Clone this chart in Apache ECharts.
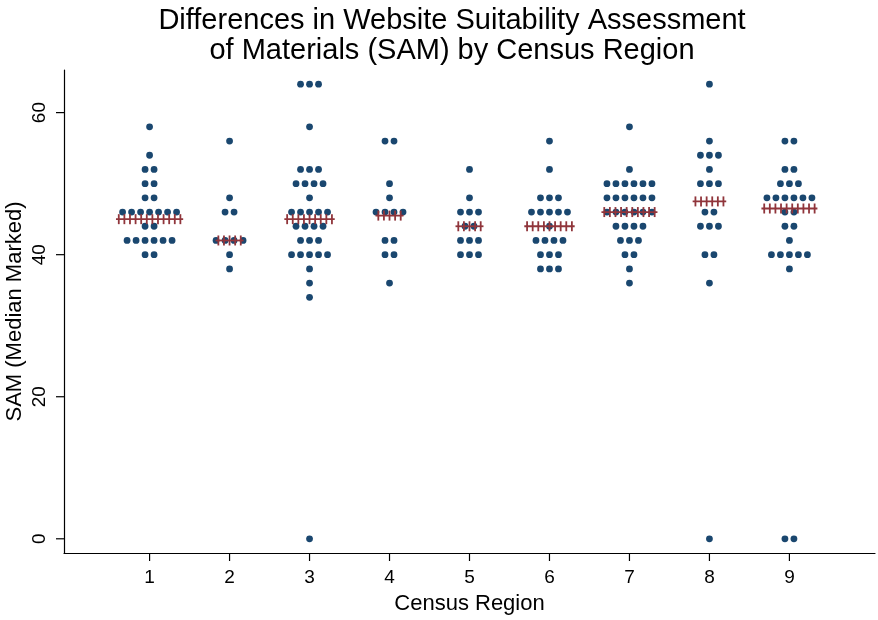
<!DOCTYPE html>
<html>
<head>
<meta charset="utf-8">
<script src="https://cdn.jsdelivr.net/npm/echarts@6/dist/echarts.min.js"></script>
<style>
  html, body { margin: 0; padding: 0; background: #fff; }
  #chart { width: 878px; height: 620px; }
</style>
</head>
<body>
<div id="chart"></div>
<script>
// SAM score per website, one array per census region
var region1 = [58, 54, 52, 52, 50, 50, 48, 48, 46, 46, 46, 46, 46, 46, 46, 44, 44, 42, 42, 42, 42, 42, 42, 40, 40];
var region2 = [56, 48, 46, 46, 42, 42, 42, 42, 40, 38];
var region3 = [64, 64, 64, 58, 52, 52, 52, 50, 50, 50, 50, 48, 46, 46, 46, 46, 46, 44, 44, 44, 44, 42, 42, 42, 40, 40, 40, 40, 40, 38, 36, 34, 0];
var region4 = [56, 56, 50, 48, 46, 46, 46, 46, 42, 42, 40, 40, 36];
var region5 = [52, 48, 46, 46, 46, 44, 44, 42, 42, 42, 40, 40, 40];
var region6 = [56, 52, 48, 48, 48, 46, 46, 46, 46, 46, 44, 42, 42, 42, 42, 40, 40, 40, 38, 38, 38];
var region7 = [58, 52, 50, 50, 50, 50, 50, 50, 48, 48, 48, 48, 48, 48, 46, 46, 46, 46, 46, 46, 44, 44, 44, 44, 42, 42, 42, 40, 40, 38, 36];
var region8 = [64, 56, 54, 54, 54, 52, 50, 50, 50, 46, 46, 44, 44, 44, 40, 40, 36, 0];
var region9 = [56, 56, 52, 52, 50, 50, 50, 48, 48, 48, 48, 48, 48, 46, 46, 44, 44, 42, 40, 40, 40, 40, 40, 38, 0, 0];

var regions = [1, 2, 3, 4, 5, 6, 7, 8, 9];
var samByRegion = [region1, region2, region3, region4, region5, region6, region7, region8, region9];
var medians = [45, 42, 45, 45.5, 44, 44, 46, 47.5, 46.5];
var medianPluses = [12, 5, 9, 5, 5, 9, 10, 6, 10];
var yTicks = [0, 20, 40, 60];

var FONT = '"Liberation Sans", Helvetica, Arial, sans-serif';
var W = 878, H = 620;
var DOT_STEP = 9;     // px between dots in a row
var PLUS_STEP = 5.6;  // px between median pluses
var TICK = 8;         // tick length, px

// plot box and the axis ranges it shows
var L = 64, R = 875, T = 70, B = 553;
var X_MIN = -0.07, X_MAX = 10.07, Y_MIN = -2, Y_MAX = 66;

// pixel span of the round tick values inside the padded plot box
var pxX = (R - L) / (X_MAX - X_MIN);
var pxY = (B - T) / (Y_MAX - Y_MIN);
var tickLeft = L + (regions[0] - X_MIN) * pxX;
var tickRight = R - (X_MAX - regions[regions.length - 1]) * pxX;
var tickTop = T + (Y_MAX - yTicks[yTicks.length - 1]) * pxY;
var tickBottom = B - (yTicks[0] - Y_MIN) * pxY;

// spread equal values side by side, centred on the region
var dotData = [];
samByRegion.forEach(function (vals, i) {
  var counts = {};
  vals.forEach(function (v) { counts[v] = (counts[v] || 0) + 1; });
  var seen = {};
  vals.forEach(function (v) {
    var k = seen[v] || 0;
    seen[v] = k + 1;
    dotData.push([regions[i], v, k - (counts[v] - 1) / 2]);
  });
});

var medianData = regions.map(function (r, i) {
  return [r, medians[i], medianPluses[i]];
});

// tick marks: [x, y, dx, dy] = axis point and the outward direction
var tickData = regions.map(function (r) { return [r, Y_MIN, 0, 1]; })
  .concat(yTicks.map(function (v) { return [X_MIN, v, -1, 0]; }));

var lineStyle = { color: '#000', width: 1.2 };
var labelStyle = { fontFamily: FONT, fontSize: 19, color: '#000' };
var hidden = { type: 'value', show: false };

var chart = echarts.init(document.getElementById('chart'));

chart.setOption({
  animation: false,
  title: {
    text: 'Differences in Website Suitability Assessment\nof Materials (SAM) by Census Region',
    left: 447,
    top: 1,
    textAlign: 'center',
    textStyle: {
      fontFamily: FONT,
      fontSize: 29,
      fontWeight: 'normal',
      color: '#000',
      lineHeight: 30
    }
  },
  grid: [
    // data
    { left: L, right: W - R, top: T, bottom: H - B, outerBoundsMode: 'none' },
    // strip under the x axis that carries the x labels
    { left: tickLeft, right: W - tickRight, top: B, height: TICK, outerBoundsMode: 'none' },
    // strip left of the y axis that carries the y labels
    { left: L - TICK, width: TICK, top: tickTop, bottom: H - tickBottom, outerBoundsMode: 'none' }
  ],
  xAxis: [
    {
      gridIndex: 0,
      type: 'value',
      min: X_MIN,
      max: X_MAX,
      name: 'Census Region',
      nameLocation: 'middle',
      nameGap: 40,
      nameTextStyle: { fontFamily: FONT, fontSize: 22, color: '#000' },
      splitLine: { show: false },
      axisLine: { onZero: false, lineStyle: lineStyle },
      axisTick: { show: false },
      axisLabel: { show: false }
    },
    {
      gridIndex: 1,
      type: 'value',
      min: regions[0],
      max: regions[regions.length - 1],
      interval: 1,
      splitLine: { show: false },
      axisLine: { show: false, onZero: false },
      axisTick: { show: false },
      axisLabel: Object.assign({ margin: 7 }, labelStyle)
    },
    Object.assign({ gridIndex: 2 }, hidden)
  ],
  yAxis: [
    {
      gridIndex: 0,
      type: 'value',
      min: Y_MIN,
      max: Y_MAX,
      name: 'SAM (Median Marked)',
      nameLocation: 'middle',
      nameGap: 38,
      nameTextStyle: { fontFamily: FONT, fontSize: 22, color: '#000' },
      splitLine: { show: false },
      axisLine: { show: true, onZero: false, lineStyle: lineStyle },
      axisTick: { show: false },
      axisLabel: { show: false }
    },
    Object.assign({ gridIndex: 1 }, hidden),
    {
      gridIndex: 2,
      type: 'value',
      min: yTicks[0],
      max: yTicks[yTicks.length - 1],
      interval: 20,
      splitLine: { show: false },
      axisLine: { show: false, onZero: false },
      axisTick: { show: false },
      axisLabel: Object.assign({ rotate: 90, margin: 7 }, labelStyle)
    }
  ],
  series: [
    {
      type: 'custom',
      name: 'ticks',
      xAxisIndex: 0,
      yAxisIndex: 0,
      clip: false,
      silent: true,
      z: 1,
      encode: { x: 0, y: 1 },
      data: tickData,
      renderItem: function (params, api) {
        var p = api.coord([api.value(0), api.value(1)]);
        return {
          type: 'line',
          shape: {
            x1: p[0], y1: p[1],
            x2: p[0] + api.value(2) * TICK, y2: p[1] + api.value(3) * TICK
          },
          style: { stroke: '#000', lineWidth: 1.2 }
        };
      }
    },
    {
      type: 'custom',
      name: 'SAM',
      xAxisIndex: 0,
      yAxisIndex: 0,
      clip: false,
      z: 2,
      encode: { x: 0, y: 1 },
      data: dotData,
      renderItem: function (params, api) {
        var p = api.coord([api.value(0), api.value(1)]);
        return {
          type: 'circle',
          shape: { cx: p[0] + api.value(2) * DOT_STEP, cy: p[1], r: 3.4 },
          style: { fill: '#1a476f' }
        };
      }
    },
    {
      type: 'custom',
      name: 'Median',
      xAxisIndex: 0,
      yAxisIndex: 0,
      clip: false,
      z: 3,
      encode: { x: 0, y: 1 },
      data: medianData,
      renderItem: function (params, api) {
        var p = api.coord([api.value(0), api.value(1)]);
        var n = api.value(2);
        var half = n * PLUS_STEP / 2;
        var stroke = { stroke: '#90353b', lineWidth: 1.8 };
        var children = [{
          type: 'line',
          shape: { x1: p[0] - half, y1: p[1], x2: p[0] + half, y2: p[1] },
          style: stroke
        }];
        for (var k = 0; k < n; k++) {
          var x = p[0] - half + PLUS_STEP * (k + 0.5);
          children.push({
            type: 'line',
            shape: { x1: x, y1: p[1] - 5, x2: x, y2: p[1] + 5 },
            style: stroke
          });
        }
        return { type: 'group', children: children };
      }
    }
  ]
});
</script>
</body>
</html>
